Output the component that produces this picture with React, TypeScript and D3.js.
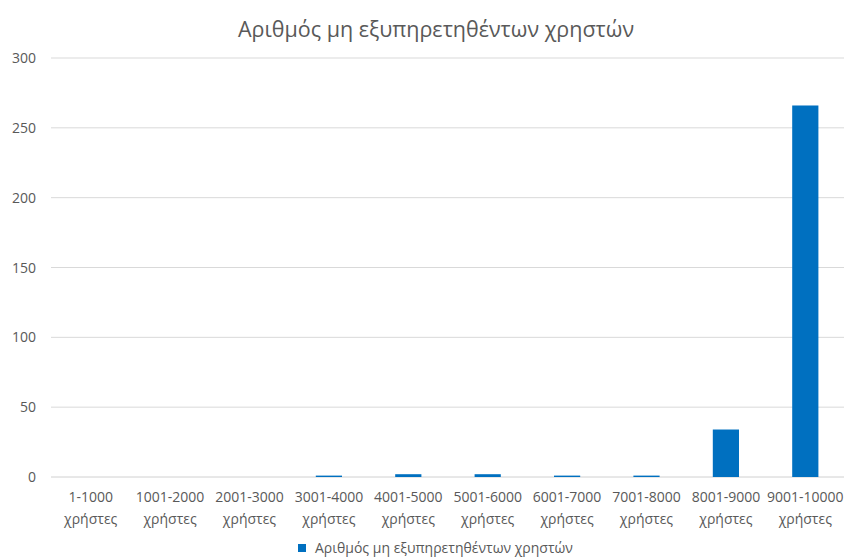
import React from "react";
import * as d3 from "d3";

const categories = [
  "1-1000", "1001-2000", "2001-3000", "3001-4000", "4001-5000",
  "5001-6000", "6001-7000", "7001-8000", "8001-9000", "9001-10000",
];
const values = [0, 0, 0, 1, 2, 2, 1, 1, 34, 266];
const yTicks = [0, 50, 100, 150, 200, 250, 300];
const title = "Αριθμός μη εξυπηρετηθέντων χρηστών";
const seriesName = "Αριθμός μη εξυπηρετηθέντων χρηστών";
const unitLabel = "χρήστες";

const W = 844, H = 557;
const left = 51, right = 845, top = 58, bottom = 477;
const font = "'Open Sans', 'Noto Sans', sans-serif";
const textColor = "#595959";
const barColor = "#0070C0";

export default function App() {
  const x = d3.scaleBand<string>().domain(categories).range([left, right]).paddingInner(0.67).paddingOuter(0.335);
  const y = d3.scaleLinear().domain([0, 300]).range([bottom, top]);
  return (
    <svg width={W} height={H} style={{ position: "absolute", left: 0, top: 0, background: "#fff" }}>
      <rect width={W} height={H} fill="#fff" />
      <text x={436} y={37} textAnchor="middle" fontFamily={font} fontSize={21.5} fill={textColor}>{title}</text>
      {yTicks.map((t) => (
        <g key={t}>
          <line x1={left} x2={right} y1={y(t)} y2={y(t)} stroke={t === 0 ? "#d0d0d0" : "#d9d9d9"} strokeWidth={1} />
          <text x={36} y={y(t) + 5} textAnchor="end" fontFamily={font} fontSize={14} fill={textColor}>{t}</text>
        </g>
      ))}
      {categories.map((c, i) => (
        <g key={c}>
          <rect x={x(c)!} width={x.bandwidth()} y={y(values[i])} height={bottom - y(values[i])} fill={barColor} />
          <text x={x(c)! + x.bandwidth() / 2} y={502} textAnchor="middle" fontFamily={font} fontSize={14} fill={textColor}>{c}</text>
          <text x={x(c)! + x.bandwidth() / 2} y={524} textAnchor="middle" fontFamily={font} fontSize={14} fill={textColor}>{unitLabel}</text>
        </g>
      ))}
      <rect x={298} y={544} width={8} height={8} fill={barColor} />
      <text x={315} y={553} fontFamily={font} fontSize={14} fill={textColor}>{seriesName}</text>
    </svg>
  );
}
